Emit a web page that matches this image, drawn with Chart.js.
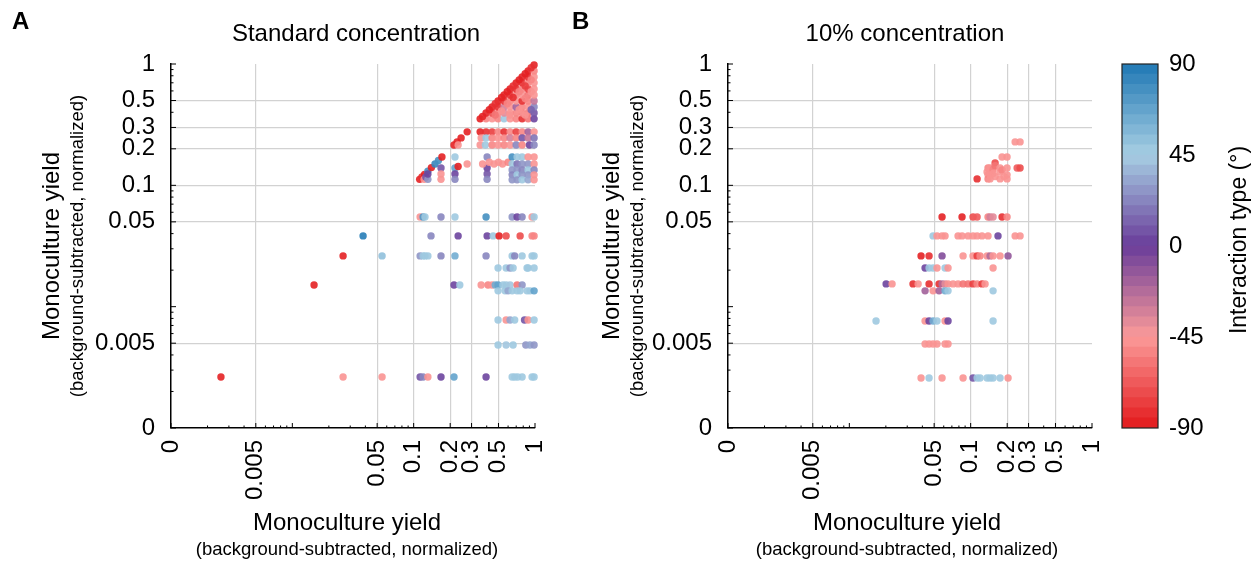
<!DOCTYPE html>
<html>
<head>
<meta charset="utf-8">
<script src="https://cdn.jsdelivr.net/npm/chart.js@4.4.0/dist/chart.umd.min.js"></script>
<style>
  body { margin: 0; background: #fff; }
  #wrap { position: relative; width: 1257px; height: 563px; overflow: hidden; }
  canvas { position: absolute; top: 0; }
</style>
</head>
<body>
<div id="wrap">
  <canvas id="chartA" width="560" height="563" style="left:0"></canvas>
  <canvas id="chartB" width="560" height="563" style="left:560px"></canvas>
  <canvas id="colorbar" width="157" height="563" style="left:1100px"></canvas>
</div>
<script>
// tick positions shared by both axes of both panels (0.001 is shown as "0")
const tickValues = [0.001, 0.005, 0.05, 0.1, 0.2, 0.3, 0.5, 1];
const colorbarTicks = [-90, -45, 0, 45, 90];

// [yield on x, yield on y, interaction type in degrees]
const standardPoints = [
  [0.00258,0.00263,-88],[0.0151,0.0151,-88],[0.0262,0.0262,-88],[0.0383,0.0383,85],[0.0549,0.0262,50],
  [0.0262,0.00263,-48],[0.0549,0.00263,-48],
  // dense triangle
  [0.353,0.353,-88],[0.395,0.353,-52],[0.443,0.353,-50],[0.496,0.353,-55],[0.556,0.353,45],[0.623,0.353,-50],[0.699,0.353,-55],[0.783,0.353,-85],[0.877,0.353,-60],[0.983,0.353,0],
  [0.395,0.395,-88],[0.443,0.395,-75],[0.496,0.395,-55],[0.556,0.395,-40],[0.623,0.395,-50],[0.699,0.395,-55],[0.783,0.395,-52],[0.877,0.395,-60],[0.983,0.395,5],
  [0.443,0.443,-88],[0.496,0.443,-82],[0.556,0.443,-35],[0.623,0.443,-50],[0.699,0.443,-20],[0.783,0.443,-55],[0.877,0.443,-50],[0.983,0.443,20],
  [0.496,0.496,-88],[0.556,0.496,-85],[0.623,0.496,-55],[0.699,0.496,-50],[0.783,0.496,-82],[0.877,0.496,-55],[0.983,0.496,-30],
  [0.556,0.556,-88],[0.623,0.556,-85],[0.699,0.556,-55],[0.783,0.556,-50],[0.877,0.556,-60],[0.983,0.556,-50],
  [0.623,0.623,-88],[0.699,0.623,-85],[0.783,0.623,-55],[0.877,0.623,-80],[0.983,0.623,-48],
  [0.699,0.699,-88],[0.783,0.699,-85],[0.877,0.699,-55],[0.983,0.699,-50],
  [0.783,0.783,-88],[0.877,0.783,-85],[0.983,0.783,-50],
  [0.877,0.877,-88],[0.983,0.877,-55],
  [0.983,0.983,-88],
  [0.37,0.37,-88],[0.42,0.42,-88],[0.47,0.47,-85],[0.53,0.53,-88],[0.59,0.59,-88],[0.66,0.66,-85],[0.74,0.74,-88],[0.83,0.83,-88],[0.93,0.93,-85],
  [0.47,0.38,-60],[0.53,0.41,-50],[0.59,0.47,-55],[0.66,0.53,-85],[0.74,0.59,-52],[0.83,0.66,-80],[0.93,0.74,-55],
  [0.62,0.38,-48],[0.74,0.42,-50],[0.83,0.52,-55],[0.93,0.59,-50],[0.93,0.42,10],[0.83,0.38,-50],
  // rows 0.2 - 0.3
  [0.215,0.215,-88],[0.228,0.228,-88],[0.246,0.246,-88],[0.276,0.276,-88],[0.2325,0.215,-48],
  [0.353,0.276,-88],[0.395,0.276,-85],[0.443,0.276,-80],[0.496,0.276,-55],[0.556,0.276,-85],[0.623,0.276,-52],[0.699,0.276,-80],[0.783,0.276,-55],[0.877,0.276,-20],[0.983,0.276,-50],
  [0.36,0.246,-50],[0.395,0.246,45],[0.443,0.246,-55],[0.496,0.246,-50],[0.556,0.246,-52],[0.623,0.246,-35],[0.699,0.246,-55],[0.783,0.246,5],[0.877,0.246,-30],[0.983,0.246,15],
  [0.353,0.215,-50],[0.39,0.215,45],[0.443,0.215,-55],[0.496,0.215,-50],[0.556,0.215,-52],[0.623,0.215,-50],[0.699,0.215,20],[0.783,0.215,-55],[0.9,0.215,0],[0.983,0.215,20],
  // rows 0.1 - 0.2
  [0.112,0.112,-88],[0.117,0.117,-85],[0.123,0.123,-88],[0.131,0.131,75],[0.14,0.14,-88],[0.15,0.15,80],[0.16,0.16,75],[0.171,0.171,-88],
  [0.122,0.112,-48],[0.126,0.117,5],[0.131,0.112,25],[0.131,0.124,0],
  [0.168,0.139,5],[0.168,0.124,-50],[0.168,0.112,-50],
  [0.219,0.171,45],[0.219,0.139,65],[0.219,0.124,0],[0.219,0.112,20],[0.2325,0.143,-88],[0.276,0.15,-48],
  [0.403,0.171,20],[0.403,0.139,0],[0.403,0.124,5],[0.403,0.112,20],
  [0.37,0.15,-50],[0.42,0.155,-48],[0.46,0.15,-50],[0.5,0.155,-48],[0.54,0.15,-50],[0.6,0.155,-52],
  [0.648,0.171,75],[0.648,0.15,45],[0.648,0.134,25],[0.648,0.122,20],[0.648,0.111,25],
  [0.712,0.171,45],[0.712,0.15,15],[0.712,0.134,25],[0.712,0.122,45],[0.712,0.111,25],
  [0.783,0.171,45],[0.783,0.15,25],[0.783,0.134,20],[0.783,0.122,25],[0.783,0.111,45],
  [0.877,0.171,-50],[0.877,0.15,25],[0.877,0.134,45],[0.877,0.122,25],[0.877,0.111,30],
  [0.983,0.171,-48],[0.983,0.15,-48],[0.983,0.134,20],[0.983,0.122,-48],[0.983,0.111,-50],
  // rows below 0.1
  [0.113,0.0549,-50],[0.1195,0.0549,70],[0.124,0.0549,45],[0.168,0.0549,20],[0.219,0.0549,45],[0.395,0.0549,75],[0.648,0.0549,25],[0.712,0.0549,2],[0.783,0.0549,20],[0.946,0.0549,-48],[0.983,0.0549,45],
  [0.139,0.0383,20],[0.2325,0.0383,0],[0.403,0.0383,0],[0.452,0.0383,45],[0.506,0.0383,-88],[0.578,0.0383,-75],[0.754,0.0383,-75],[0.946,0.0383,-55],[0.983,0.0383,-55],
  [0.113,0.0262,25],[0.1195,0.0262,45],[0.124,0.0262,45],[0.131,0.0262,45],[0.168,0.0262,20],[0.219,0.0262,60],[0.395,0.0262,20],[0.648,0.0262,45],[0.68,0.0262,20],[0.783,0.0262,45],[0.946,0.0262,45],[0.983,0.0262,45],
  [0.496,0.0208,45],[0.578,0.0208,45],[0.623,0.0208,25],[0.66,0.0208,45],[0.86,0.0208,45],[0.877,0.0208,45],[0.983,0.0208,45],
  [0.215,0.0151,0],[0.24,0.0151,45],[0.36,0.0151,-50],[0.41,0.0151,-55],[0.443,0.0151,-50],[0.47,0.0151,60],[0.496,0.0151,65],[0.545,0.0151,45],[0.578,0.0151,45],[0.623,0.0151,40],[0.712,0.0151,-60],[0.783,0.0151,25],
  [0.496,0.0135,45],[0.567,0.0135,45],[0.6,0.0135,30],[0.648,0.0135,45],[0.712,0.0135,45],[0.754,0.0135,45],[0.86,0.0135,45],[0.91,0.0135,45],[0.983,0.0135,65],
  [0.496,0.00777,45],[0.578,0.00777,-48],[0.623,0.00777,30],[0.68,0.00777,45],[0.82,0.00777,5],[0.877,0.00777,-48],[0.983,0.00777,45],
  [0.496,0.00483,45],[0.578,0.00483,40],[0.66,0.00483,45],[0.84,0.00483,25],[0.91,0.00483,30],[0.983,0.00483,25],
  [0.113,0.00263,5],[0.1195,0.00263,20],[0.131,0.00263,-48],[0.168,0.00263,0],[0.215,0.00263,65],[0.395,0.00263,0],[0.648,0.00263,45],[0.68,0.00263,45],[0.72,0.00263,45],[0.783,0.00263,45],[0.946,0.00263,45],[0.983,0.00263,45]
];

const lowPoints = [
  [0.2325,0.228,-48],[0.2554,0.228,-50],[0.1815,0.171,-48],[0.1995,0.171,-48],[0.159,0.153,-75],[0.113,0.113,-85],
  [0.139,0.139,-55],[0.1365,0.129,-50],[0.139,0.122,-50],[0.139,0.113,-55],[0.1445,0.139,-50],[0.1445,0.129,-48],[0.1445,0.122,-48],[0.1445,0.113,-50],
  [0.153,0.135,-52],[0.153,0.125,-48],[0.159,0.145,-60],[0.159,0.118,-50],
  [0.1747,0.139,-48],[0.1747,0.129,-48],[0.1747,0.113,-50],[0.1815,0.134,-52],[0.1995,0.139,-50],[0.1995,0.122,-48],[0.1995,0.113,-50],[0.1886,0.118,-48],
  [0.2415,0.139,-70],[0.2554,0.139,-72],
  [0.0581,0.0549,-88],[0.0849,0.0549,-88],[0.1046,0.0549,-75],[0.113,0.0549,-70],[0.139,0.0549,-55],[0.1445,0.0549,-35],[0.153,0.0549,-40],[0.1815,0.0549,-85],[0.1995,0.0549,-55],
  [0.049,0.0383,45],[0.0528,0.0383,-48],[0.0581,0.0383,-48],[0.0615,0.0383,-48],[0.0787,0.0383,-50],[0.0849,0.0383,-48],[0.0952,0.0383,-48],[0.1046,0.0383,-50],[0.113,0.0383,-48],[0.124,0.0383,-48],[0.139,0.0383,-50],[0.168,0.0383,0],[0.2325,0.0383,-48],[0.2554,0.0383,-50],
  [0.039,0.0262,-88],[0.0454,0.0262,-85],[0.0581,0.0262,-10],[0.0866,0.0262,-48],[0.1046,0.0262,-48],[0.113,0.0262,-80],[0.1195,0.0262,-55],[0.1365,0.0262,-50],[0.1445,0.0262,-25],[0.153,0.0262,-50],[0.1747,0.0262,-48],[0.2033,0.0262,-15],
  [0.0421,0.0208,0],[0.0454,0.0208,45],[0.049,0.0208,45],[0.0528,0.0208,-48],[0.0615,0.0208,45],[0.0651,0.0208,-48],[0.153,0.0208,-48],
  [0.0201,0.0154,0],[0.0225,0.0154,-48],[0.0335,0.0154,-85],[0.0369,0.0154,-48],[0.0454,0.0154,-85],[0.0549,0.0154,-85],[0.0581,0.0154,-25],[0.0615,0.0154,-40],[0.0651,0.0154,-48],[0.0716,0.0154,-48],[0.0787,0.0154,-48],[0.0866,0.0154,-60],[0.0952,0.0154,-60],[0.1046,0.0154,-80],[0.113,0.0154,-55],[0.124,0.0154,-80],[0.1315,0.0154,-48],
  [0.0421,0.0135,-20],[0.049,0.0135,-48],[0.0549,0.0135,-20],[0.0615,0.0135,60],[0.0651,0.0135,45],[0.153,0.0135,45],
  [0.0166,0.00762,45],[0.0421,0.00762,-48],[0.0454,0.00762,0],[0.049,0.00762,60],[0.0528,0.00762,45],[0.0615,0.00762,-48],[0.0651,0.00762,0],[0.153,0.00762,45],
  [0.0421,0.00493,-48],[0.0454,0.00493,-48],[0.049,0.00493,-48],[0.0528,0.00493,-48],[0.0615,0.00493,-48],[0.0651,0.00493,-48],
  [0.039,0.00258,-48],[0.0454,0.00258,45],[0.0581,0.00258,-48],[0.0866,0.00258,-48],[0.1046,0.00258,5],[0.113,0.00258,45],[0.1195,0.00258,45],[0.1365,0.00258,45],[0.1445,0.00258,45],[0.153,0.00258,45],[0.1747,0.00258,45],[0.2033,0.00258,-48]
];

const FONT = "'Liberation Sans', Arial, Helvetica, sans-serif";
Chart.defaults.font.family = FONT;
Chart.defaults.color = '#000';

// colormap: red -> pink -> purple -> light blue -> blue, 36 steps
const cmapStops = [-90, -45, 0, 45, 90];
const cmapColors = [[227,26,28],[251,154,153],[106,61,154],[166,206,227],[31,120,180]];
const nBands = 36;

function bandColor(angle, alpha) {
  const k = Math.max(0, Math.min(nBands - 1, Math.floor((angle + 90) / 180 * nBands)));
  const mid = -90 + (k + 0.5) * 180 / nBands;
  const s = Math.min(3, Math.floor((mid + 90) / 45));
  const t = (mid - cmapStops[s]) / 45;
  const c = cmapColors[s].map((v, i) => Math.round(v + (cmapColors[s + 1][i] - v) * t));
  return `rgba(${c[0]},${c[1]},${c[2]},${alpha})`;
}

const setTicks = scale => { scale.ticks = tickValues.map(v => ({ value: v })); };
const tickLabel = v => (v === 0.001 ? '0' : String(v));
const gridColor = ctx => (ctx.tick && (ctx.tick.value === 0.001 || ctx.tick.value === 1)) ? 'rgba(0,0,0,0)' : '#d2d2d2';
// keep the plot box where it is: no extra room for overhanging labels
const noOverhang = s => { s.paddingLeft = 0; s.paddingRight = 0; s.paddingTop = 0; s.paddingBottom = 0; };

const panelText = {
  id: 'panelText',
  afterDraw(chart, args, o) {
    const ctx = chart.ctx;
    ctx.save();
    ctx.fillStyle = '#000';
    ctx.textBaseline = 'middle';
    ctx.textAlign = 'left';
    ctx.font = 'bold 24px ' + FONT;
    ctx.fillText(o.letter, 12, 22);
    ctx.textAlign = 'center';
    ctx.font = '24px ' + FONT;
    ctx.fillText(o.title, o.titleX, 34);
    ctx.fillText('Monoculture yield', 347, 523);
    ctx.font = '18.5px ' + FONT;
    ctx.fillText('(background-subtracted, normalized)', 347, 550);
    ctx.translate(52, 246);
    ctx.rotate(-Math.PI / 2);
    ctx.font = '24px ' + FONT;
    ctx.fillText('Monoculture yield', 0, 0);
    ctx.font = '18.5px ' + FONT;
    ctx.fillText('(background-subtracted, normalized)', 0, 26);
    ctx.restore();
  }
};

// small inward log ticks on the left and bottom axes
const logTicks = {
  id: 'logTicks',
  afterDraw(chart) {
    const { ctx, chartArea: a } = chart;
    const x = chart.scales.x, y = chart.scales.y;
    ctx.save();
    ctx.strokeStyle = '#000';
    ctx.lineWidth = 1;
    for (let e = -3; e <= 0; e++) {
      for (let k = 1; k <= 9; k++) {
        const v = k * Math.pow(10, e);
        if (v > 1.0001) break;
        const major = k === 1 || tickValues.some(t => Math.abs(t - v) < 1e-9);
        const len = major ? 5 : 2.5;
        const px = x.getPixelForValue(v), py = y.getPixelForValue(v);
        ctx.beginPath();
        ctx.moveTo(px, a.bottom);
        ctx.lineTo(px, a.bottom - len);
        ctx.moveTo(a.left, py);
        ctx.lineTo(a.left + len, py);
        ctx.stroke();
      }
    }
    ctx.restore();
  }
};

function makePanel(id, points, yWidth, rightPad, text) {
  new Chart(document.getElementById(id), {
    type: 'scatter',
    data: {
      datasets: [{
        data: points.map(p => ({ x: p[0], y: p[1] })),
        pointBackgroundColor: points.map(p => bandColor(p[2], 0.9)),
        pointBorderWidth: 0,
        pointRadius: 3.7,
        clip: false,
      }],
    },
    options: {
      responsive: false,
      animation: false,
      events: [],
      layout: { padding: { top: 64, right: rightPad, bottom: 0, left: 0 } },
      scales: {
        x: {
          type: 'logarithmic', min: 0.001, max: 1,
          afterBuildTicks: setTicks,
          afterFit: s => { s.height = 135; noOverhang(s); },
          ticks: { autoSkip: false, minRotation: 90, maxRotation: 90, padding: 12, font: { size: 24 }, callback: tickLabel },
          grid: { color: gridColor, lineWidth: 1.2, drawTicks: false },
          border: { color: '#000', width: 1.5 },
        },
        y: {
          type: 'logarithmic', min: 0.001, max: 1,
          afterBuildTicks: setTicks,
          afterFit: s => { s.width = yWidth; noOverhang(s); },
          ticks: { autoSkip: false, padding: 16, font: { size: 24 }, callback: tickLabel },
          grid: { color: gridColor, lineWidth: 1.2, drawTicks: false },
          border: { color: '#000', width: 1.5 },
        },
      },
      plugins: { legend: { display: false }, tooltip: { enabled: false }, panelText: text },
    },
    plugins: [panelText, logTicks],
  });
}

makePanel('chartA', standardPoints, 171, 25, { letter: 'A', title: 'Standard concentration', titleX: 356 });
makePanel('chartB', lowPoints, 168, 28, { letter: 'B', title: '10% concentration', titleX: 345 });

// colour bar
const bands = [];
for (let k = 0; k < nBands; k++) bands.push([-90 + k * 180 / nBands, -90 + (k + 1) * 180 / nBands]);

const colorbarFrame = {
  id: 'colorbarFrame',
  afterDraw(chart) {
    const { ctx, chartArea: a } = chart;
    ctx.save();
    ctx.strokeStyle = '#222';
    ctx.lineWidth = 1.2;
    ctx.strokeRect(a.left, a.top, a.right - a.left, a.bottom - a.top);
    ctx.fillStyle = '#000';
    ctx.font = '23px ' + FONT;
    ctx.textAlign = 'center';
    ctx.textBaseline = 'middle';
    ctx.translate(140, 240);
    ctx.rotate(-Math.PI / 2);
    ctx.fillText('Interaction type (°)', 0, 0);
    ctx.restore();
  }
};

new Chart(document.getElementById('colorbar'), {
  type: 'bar',
  data: {
    labels: [''],
    datasets: bands.map(b => ({
      data: [b],
      backgroundColor: bandColor((b[0] + b[1]) / 2, 1),
      borderWidth: 0,
      grouped: false,
      barPercentage: 1,
      categoryPercentage: 1,
    })),
  },
  options: {
    responsive: false,
    animation: false,
    events: [],
    layout: { padding: { top: 64, right: 0, bottom: 135, left: 22 } },
    scales: {
      x: { display: false },
      y: {
        position: 'right', min: -90, max: 90,
        afterBuildTicks: s => { s.ticks = colorbarTicks.map(v => ({ value: v })); },
        afterFit: s => { s.width = 99; noOverhang(s); },
        ticks: { padding: 11, font: { size: 24 } },
        grid: { display: false, drawTicks: false },
        border: { display: false },
      },
    },
    plugins: { legend: { display: false }, tooltip: { enabled: false } },
  },
  plugins: [colorbarFrame],
});
</script>
</body>
</html>
